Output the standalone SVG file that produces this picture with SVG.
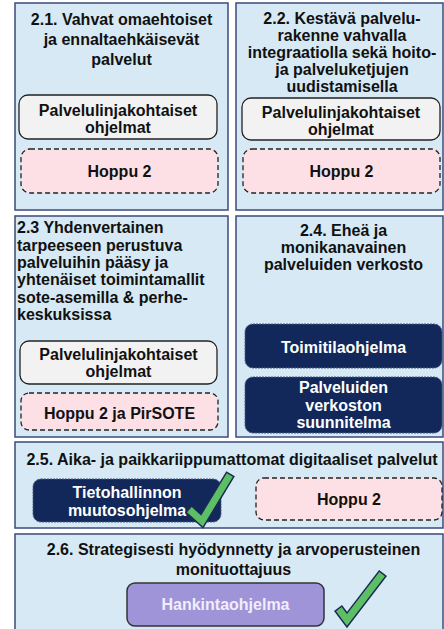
<svg xmlns="http://www.w3.org/2000/svg" width="444" height="629" viewBox="0 0 444 629">
<style>
  .panel { fill: #d6e9f5; stroke: #3b4b7a; stroke-width: 1.5; }
  .t { font-family: "Liberation Sans", Arial, sans-serif; font-weight: bold; font-size: 16px; fill: #111; }
  .c { text-anchor: middle; }
  .gray { fill: #f2f2f2; stroke: #222; stroke-width: 1.3; }
  .pink { fill: #fde0e6; stroke: #222; stroke-width: 1.3; stroke-dasharray: 5 3; }
  .navy { fill: #12285a; stroke: #4a5a80; stroke-width: 1; stroke-dasharray: 2 1; }
  .purple { fill: #a094d8; stroke: #333; stroke-width: 1.5; }
  .w { fill: #ffffff; }
  .lw { fill: #f1eefa; }
  .chkO { fill: none; stroke: #1b2b55; stroke-width: 10; stroke-linecap: square; stroke-linejoin: miter; }
  .chkI { fill: none; stroke: #5cbf66; stroke-width: 7; stroke-linecap: square; stroke-linejoin: miter; }
</style>

<g id="panel-2-1">
  <rect class="panel" x="15" y="3" width="213" height="207"/>
  <text class="t c" x="121.5" y="25">2.1. Vahvat omaehtoiset</text>
  <text class="t c" x="121.5" y="45">ja ennaltaehkäisevät</text>
  <text class="t c" x="121.5" y="64.5">palvelut</text>
  <g id="p1-palvelulinja">
    <rect class="gray" x="19" y="95" width="198" height="44" rx="9"/>
    <text class="t c" x="118" y="115.5">Palvelulinjakohtaiset</text>
    <text class="t c" x="118" y="132.5">ohjelmat</text>
  </g>
  <g id="p1-hoppu">
    <rect class="pink" x="21" y="149" width="197" height="44" rx="9"/>
    <text class="t c" x="119.5" y="177">Hoppu 2</text>
  </g>
</g>

<g id="panel-2-2">
  <rect class="panel" x="236" y="3" width="207" height="207"/>
  <text class="t c" x="342" y="24">2.2. Kestävä palvelu-</text>
  <text class="t c" x="342" y="41">rakenne vahvalla</text>
  <text class="t c" x="342" y="58">integraatiolla sekä hoito-</text>
  <text class="t c" x="342" y="75">ja palveluketjujen</text>
  <text class="t c" x="342" y="92">uudistamisella</text>
  <g id="p2-palvelulinja">
    <rect class="gray" x="242" y="98" width="198" height="42" rx="9"/>
    <text class="t c" x="341" y="118">Palvelulinjakohtaiset</text>
    <text class="t c" x="341" y="135">ohjelmat</text>
  </g>
  <g id="p2-hoppu">
    <rect class="pink" x="243" y="149" width="197" height="44" rx="9"/>
    <text class="t c" x="341.5" y="177">Hoppu 2</text>
  </g>
</g>

<g id="panel-2-3">
  <rect class="panel" x="15" y="216" width="213" height="221"/>
  <text class="t" x="17" y="233.3">2.3 Yhdenvertainen</text>
  <text class="t" x="17" y="250.7">tarpeeseen perustuva</text>
  <text class="t" x="17" y="268">palveluihin pääsy ja</text>
  <text class="t" x="17" y="285.3">yhtenäiset toimintamallit</text>
  <text class="t" x="17" y="302.7">sote-asemilla &amp; perhe-</text>
  <text class="t" x="17" y="320">keskuksissa</text>
  <g id="p3-palvelulinja">
    <rect class="gray" x="20" y="341" width="197" height="43" rx="9"/>
    <text class="t c" x="118.5" y="360">Palvelulinjakohtaiset</text>
    <text class="t c" x="118.5" y="377">ohjelmat</text>
  </g>
  <g id="p3-hoppu">
    <rect class="pink" x="21" y="393" width="197" height="37" rx="8"/>
    <text class="t c" x="119.5" y="419">Hoppu 2 ja PirSOTE</text>
  </g>
</g>

<g id="panel-2-4">
  <rect class="panel" x="236" y="216" width="207" height="221"/>
  <text class="t c" x="343.5" y="236">2.4. Eheä ja</text>
  <text class="t c" x="343.5" y="253">monikanavainen</text>
  <text class="t c" x="343.5" y="270">palveluiden verkosto</text>
  <g id="p4-toimitila">
    <rect class="navy" x="245" y="324" width="197" height="44" rx="8"/>
    <text class="t c w" x="343.5" y="352.5">Toimitilaohjelma</text>
  </g>
  <g id="p4-verkosto">
    <rect class="navy" x="245" y="377" width="197" height="56" rx="8"/>
    <text class="t c w" x="343.5" y="393">Palveluiden</text>
    <text class="t c w" x="343.5" y="410.5">verkoston</text>
    <text class="t c w" x="343.5" y="428">suunnitelma</text>
  </g>
</g>

<g id="panel-2-5">
  <rect class="panel" x="15" y="442" width="428" height="86"/>
  <text class="t c" x="232" y="465">2.5. Aika- ja paikkariippumattomat digitaaliset palvelut</text>
  <g id="p5-tietohallinto">
    <rect class="navy" x="33" y="479" width="188" height="43" rx="8"/>
    <text class="t c w" x="127" y="497.5">Tietohallinnon</text>
    <text class="t c w" x="127" y="516">muutosohjelma</text>
  </g>
  <g id="p5-hoppu">
    <rect class="pink" x="256" y="478" width="186" height="42" rx="8"/>
    <text class="t c" x="349" y="505">Hoppu 2</text>
  </g>
  <g id="p5-check">
    <polyline class="chkO" points="192,512 202,521 228,478"/>
    <polyline class="chkI" points="192,512 202,521 228,478"/>
  </g>
</g>

<g id="panel-2-6">
  <rect class="panel" x="15" y="534" width="428" height="100"/>
  <text class="t c" x="233.5" y="554.5">2.6. Strategisesti hyödynnetty ja arvoperusteinen</text>
  <text class="t c" x="233.5" y="574.5">monituottajuus</text>
  <g id="p6-hankinta">
    <rect class="purple" x="127" y="583" width="197" height="43" rx="8"/>
    <text class="t c lw" x="225.5" y="610">Hankintaohjelma</text>
  </g>
  <g id="p6-check">
    <polyline class="chkO" points="341,612 347,620 380,577"/>
    <polyline class="chkI" points="341,612 347,620 380,577"/>
  </g>
</g>

<g id="connectors"></g>
</svg>
